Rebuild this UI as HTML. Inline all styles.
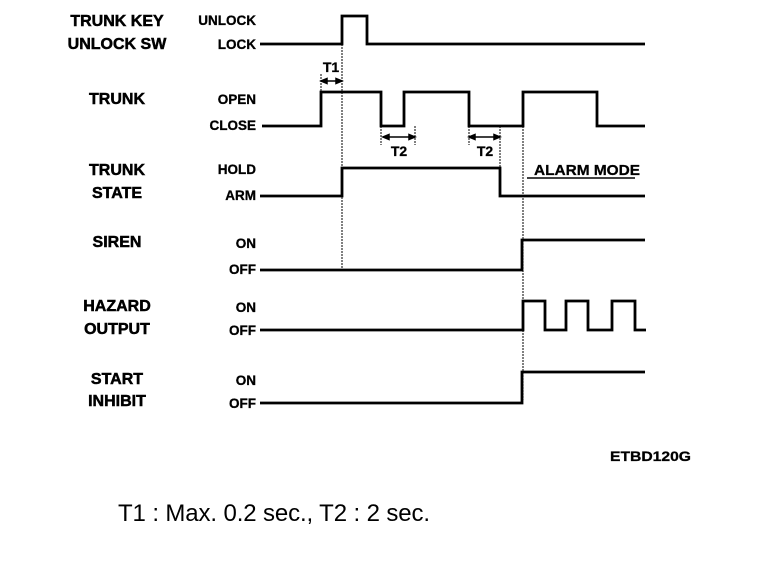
<!DOCTYPE html>
<html><head><meta charset="utf-8"><style>
html,body{margin:0;padding:0;background:#fff;}
svg{display:block;}
text{font-family:"Liberation Sans",sans-serif;fill:#000;}
.l{font-size:16px;font-weight:bold;text-anchor:middle;stroke:#000;stroke-width:0.5;}
.r{font-size:13.5px;font-weight:bold;text-anchor:end;stroke:#000;stroke-width:0.3;}
</style></head><body>
<svg width="768" height="564" viewBox="0 0 768 564" xmlns="http://www.w3.org/2000/svg">
<g>
<text class="l" x="117" y="26">TRUNK KEY</text>
<text class="l" x="117" y="49">UNLOCK SW</text>
<text class="l" x="117" y="104">TRUNK</text>
<text class="l" x="117" y="175">TRUNK</text>
<text class="l" x="117" y="198">STATE</text>
<text class="l" x="117" y="247">SIREN</text>
<text class="l" x="117" y="311">HAZARD</text>
<text class="l" x="117" y="334">OUTPUT</text>
<text class="l" x="117" y="384">START</text>
<text class="l" x="117" y="406">INHIBIT</text>
<text class="r" x="256" y="25">UNLOCK</text>
<text class="r" x="256" y="49">LOCK</text>
<text class="r" x="256" y="104">OPEN</text>
<text class="r" x="256" y="130">CLOSE</text>
<text class="r" x="256" y="174">HOLD</text>
<text class="r" x="256" y="200">ARM</text>
<text class="r" x="256" y="248">ON</text>
<text class="r" x="256" y="274">OFF</text>
<text class="r" x="256" y="312">ON</text>
<text class="r" x="256" y="335">OFF</text>
<text class="r" x="256" y="385">ON</text>
<text class="r" x="256" y="408">OFF</text>
</g>
<g fill="none" stroke="#000" stroke-width="2.8">
<polyline points="260,44 342,44 342,16 367,16 367,44 645,44"/>
<polyline points="262,126 321,126 321,92 381,92 381,126 404,126 404,92 469,92 469,126 523,126 523,92 597,92 597,126 645,126"/>
<polyline points="260,196 342,196 342,168 500,168 500,196 645,196"/>
<polyline points="260,270 522,270 522,240 645,240"/>
<polyline points="260,330 523,330 523,301 545,301 545,330 566,330 566,301 588,301 588,330 612,330 612,301 635,301 635,330 646,330"/>
<polyline points="260,403 522,403 522,372 645,372"/>
</g>
<g fill="none" stroke="#000" stroke-width="1" stroke-dasharray="2,1">
<line x1="342" y1="44" x2="342" y2="270"/>
<line x1="523" y1="126" x2="523" y2="400"/>
<line x1="500" y1="126" x2="500" y2="196"/>
<line x1="321" y1="74" x2="321" y2="92"/>
<line x1="381" y1="126" x2="381" y2="145"/>
<line x1="415" y1="126" x2="415" y2="145"/>
<line x1="469" y1="126" x2="469" y2="145"/>
</g>
<g stroke="#000" stroke-width="1.5" fill="#000">
<line x1="323" y1="81" x2="340" y2="81"/>
<polygon points="321,81 327,78.5 327,83.5"/><polygon points="342,81 336,78.5 336,83.5"/>
<line x1="385" y1="137" x2="413" y2="137"/>
<polygon points="383,137 389,134.5 389,139.5"/><polygon points="415,137 409,134.5 409,139.5"/>
<line x1="471" y1="137" x2="498" y2="137"/>
<polygon points="469,137 475,134.5 475,139.5"/><polygon points="500,137 494,134.5 494,139.5"/>
<line x1="527" y1="178" x2="635" y2="178"/>
</g>
<text x="331" y="72" font-size="14" font-weight="bold" text-anchor="middle" stroke="#000" stroke-width="0.3">T1</text>
<text x="399" y="156" font-size="14" font-weight="bold" text-anchor="middle" stroke="#000" stroke-width="0.3">T2</text>
<text x="485" y="156" font-size="14" font-weight="bold" text-anchor="middle" stroke="#000" stroke-width="0.3">T2</text>
<text x="534" y="175" font-size="15" font-weight="bold" textLength="106" lengthAdjust="spacingAndGlyphs" stroke="#000" stroke-width="0.3">ALARM MODE</text>
<text x="610" y="461" font-size="14" font-weight="bold" textLength="81" lengthAdjust="spacingAndGlyphs" stroke="#000" stroke-width="0.3">ETBD120G</text>
<text x="118" y="521" font-size="24" textLength="312">T1 : Max. 0.2 sec., T2 : 2 sec.</text>
</svg>
</body></html>
